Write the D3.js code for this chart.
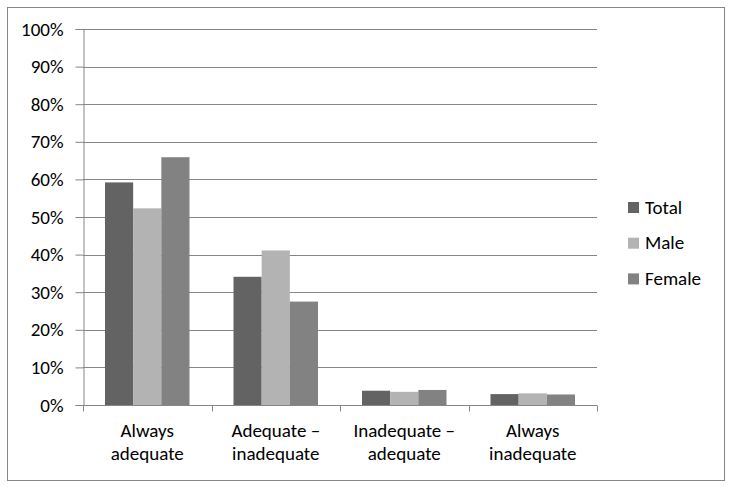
<!DOCTYPE html>
<html>
<head>
<meta charset="utf-8">
<script src="https://cdn.jsdelivr.net/npm/d3@7"></script>
<style>
  body { margin: 0; background: #fff; }
  svg text { font-family: Carlito, "Open Sans", sans-serif; fill: #000; }
</style>
</head>
<body>
<svg id="chart" width="732" height="487"></svg>
<script>
const categories = [["Always", "adequate"], ["Adequate \u2013", "inadequate"], ["Inadequate \u2013", "adequate"], ["Always", "inadequate"]];
const seriesNames = ["Total", "Male", "Female"];
const total = [59.2, 34.1, 3.8, 2.9];
const male = [52.3, 41.1, 3.5, 3.1];
const female = [65.9, 27.5, 4.0, 2.8];
const colors = ["#636363", "#b3b3b3", "#828282"];
const yTicks = [0, 10, 20, 30, 40, 50, 60, 70, 80, 90, 100];

const values = [total, male, female];
const svg = d3.select("#chart");
const fontFam = "Carlito, 'Open Sans', sans-serif";
const fs = 19;

// outer frame
svg.append("rect").attr("x", 7.5).attr("y", 7.5).attr("width", 717).attr("height", 473)
  .attr("fill", "#fff").attr("stroke", "#868686").attr("stroke-width", 1);

const plotL = 83, plotR = 597, plotT = 29, plotB = 405;
const x = d3.scaleBand().domain(d3.range(categories.length)).range([plotL, plotR]).paddingInner(0).paddingOuter(0);
const y = d3.scaleLinear().domain([0, 100]).range([plotB, plotT]);

// grid lines
svg.append("g").selectAll("line").data(yTicks.filter(d => d > 0)).join("line")
  .attr("x1", plotL).attr("x2", plotR)
  .attr("y1", d => Math.round(y(d)) + 0.5).attr("y2", d => Math.round(y(d)) + 0.5)
  .attr("stroke", "#868686").attr("stroke-width", 1);

// bars
const groupPad = 22;
const barW = (x.bandwidth() - 2 * groupPad) / 3;
const bars = svg.append("g");
values.forEach((vals, s) => {
  bars.selectAll(null).data(vals).join("rect")
    .attr("x", (d, i) => x(i) + groupPad + s * barW)
    .attr("y", d => y(d))
    .attr("width", barW)
    .attr("height", d => plotB - y(d))
    .attr("fill", colors[s]);
});

// y axis
const yAxis = svg.append("g").attr("transform", `translate(${plotL + 0.5},0)`)
  .call(d3.axisLeft(y).tickValues(yTicks).tickFormat(d => d + "%").tickSize(8).tickPadding(12));
yAxis.select(".domain").attr("stroke", "#868686");
yAxis.selectAll(".tick line").attr("stroke", "#868686");
yAxis.selectAll(".tick text").attr("font-size", fs).attr("font-family", fontFam);

// x axis
const xg = svg.append("g").attr("transform", `translate(0,${plotB + 0.5})`);
xg.append("line").attr("x1", plotL).attr("x2", plotR).attr("stroke", "#868686");
xg.selectAll("line.tk").data(d3.range(categories.length + 1)).join("line").attr("class", "tk")
  .attr("x1", i => Math.round(plotL + i * x.bandwidth()) + 0.5)
  .attr("x2", i => Math.round(plotL + i * x.bandwidth()) + 0.5)
  .attr("y1", 0).attr("y2", 6).attr("stroke", "#868686");
const xl = xg.selectAll("text").data(categories).join("text")
  .attr("text-anchor", "middle").attr("font-size", fs)
  .attr("transform", (d, i) => `translate(${x(i) + x.bandwidth() / 2},0)`);
xl.selectAll("tspan").data(d => d).join("tspan")
  .attr("x", 0).attr("y", (d, j) => 31 + j * 23.5).text(d => d);

// legend
const lg = svg.append("g").attr("transform", "translate(628,207)");
seriesNames.forEach((n, i) => {
  const g = lg.append("g").attr("transform", `translate(0,${i * 35.7})`);
  g.append("rect").attr("x", 0).attr("y", -5).attr("width", 11).attr("height", 11).attr("fill", colors[i]);
  g.append("text").attr("x", 17).attr("y", 6.5).attr("font-size", fs).text(n);
});
</script>
</body>
</html>
